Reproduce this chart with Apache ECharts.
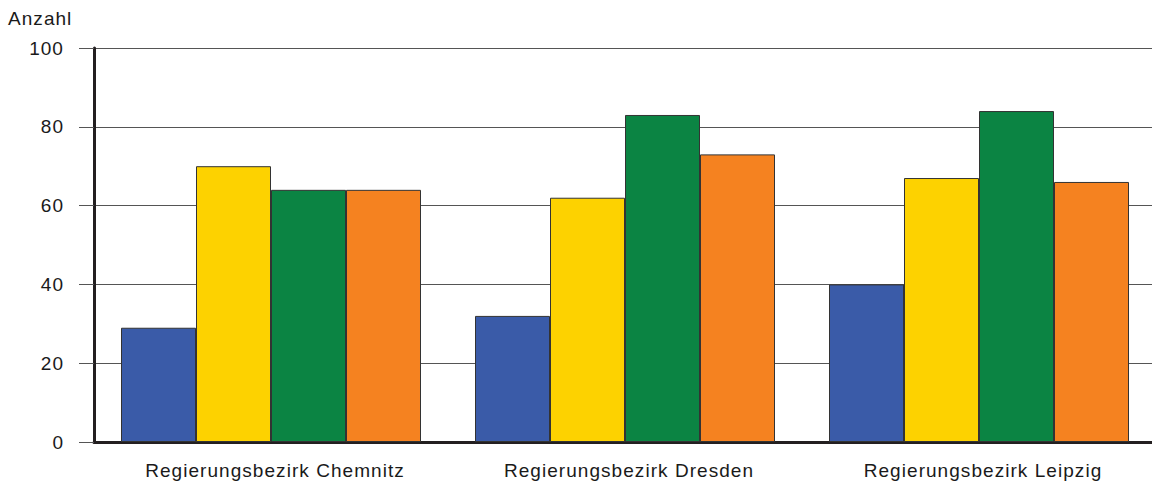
<!DOCTYPE html>
<html>
<head>
<meta charset="utf-8">
<script src="https://cdn.jsdelivr.net/npm/echarts@6/dist/echarts.min.js"></script>
<style>
  html, body { margin: 0; padding: 0; background: #fff; overflow: hidden; }
  #wrap { width: 1152px; height: 485px; overflow: hidden; }
  #chart { width: 1160px; height: 485px; }
  #chart text { letter-spacing: 1.05px; }
</style>
</head>
<body>
<div id="wrap"><div id="chart"></div></div>
<script>
// Regions on the category axis
const regions = ['Regierungsbezirk Chemnitz', 'Regierungsbezirk Dresden', 'Regierungsbezirk Leipzig'];

// One value per region for each of the four series
const seriesBlue = [29, 32, 40];
const seriesYellow = [70, 62, 67];
const seriesGreen = [64, 83, 84];
const seriesOrange = [64, 73, 66];

const seriesColors = ['#3a5ba8', '#fdd200', '#0b8443', '#f58220'];
const yTicks = { min: 0, max: 100, interval: 20 };

const font = 'Liberation Sans, Arial, sans-serif';

const chart = echarts.init(document.getElementById('chart'), null, { renderer: 'svg' });

function bar(data, color) {
  return {
    type: 'bar',
    data: data,
    barWidth: 75,
    barGap: '0%',
    itemStyle: { color: color, borderColor: '#333', borderWidth: 1 },
    animation: false
  };
}

chart.setOption({
  animation: false,
  // plot runs slightly past the visible right edge, so the last gridlines reach the border
  grid: { left: 94, right: 4, top: 48, bottom: 43, containLabel: false },
  graphic: [{
    type: 'text',
    left: 8,
    top: 9,
    style: { text: 'Anzahl', font: '19px ' + font, fill: '#1a1a1a' }
  }],
  xAxis: {
    type: 'category',
    data: regions,
    axisLine: { lineStyle: { color: '#231f20', width: 3 } },
    axisTick: { show: false },
    axisLabel: { color: '#1a1a1a', fontSize: 19, fontFamily: font, margin: 19, padding: [0, 0, 0, 8] }
  },
  yAxis: {
    type: 'value',
    min: yTicks.min,
    max: yTicks.max,
    interval: yTicks.interval,
    axisLine: { show: true, lineStyle: { color: '#231f20', width: 3 } },
    axisTick: { show: true, length: 15, lineStyle: { color: '#555', width: 1 } },
    axisLabel: { color: '#1a1a1a', fontSize: 19, fontFamily: font, margin: 30 },
    splitLine: { show: true, lineStyle: { color: '#555', width: 1 } }
  },
  series: [
    bar(seriesBlue, seriesColors[0]),
    bar(seriesYellow, seriesColors[1]),
    bar(seriesGreen, seriesColors[2]),
    bar(seriesOrange, seriesColors[3])
  ]
});
</script>
</body>
</html>
